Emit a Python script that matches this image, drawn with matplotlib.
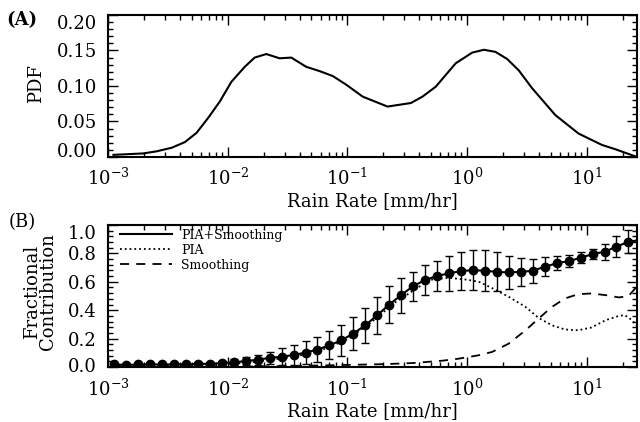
import numpy as np
import matplotlib
matplotlib.use('Agg')
import matplotlib.pyplot as plt
from matplotlib.ticker import AutoMinorLocator, LogLocator

plt.rcParams['font.family'] = 'DejaVu Serif'
plt.rcParams['mathtext.fontset'] = 'dejavuserif'

# panel A: rain rate PDF (log10 of rain rate, pdf)
pdf_logr = [-2.956, -2.706, -2.594, -2.469, -2.358, -2.261, -2.164, -2.067, -1.969,
            -1.858, -1.775, -1.678, -1.567, -1.469, -1.344, -1.233, -1.122, -1.011,
            -0.872, -0.664, -0.469, -0.372, -0.261, -0.094, 0.044, 0.142, 0.239,
            0.336, 0.433, 0.544, 0.739, 0.933, 1.128, 1.239, 1.406]
pdf_val = [0.003, 0.005, 0.008, 0.013, 0.021, 0.034, 0.055, 0.078, 0.106,
           0.127, 0.140, 0.145, 0.139, 0.140, 0.127, 0.121, 0.114, 0.102,
           0.085, 0.071, 0.076, 0.085, 0.099, 0.132, 0.147, 0.151, 0.148,
           0.138, 0.122, 0.097, 0.059, 0.033, 0.017, 0.011, 0.001]

# panel B: PIA+Smoothing mean and error, bins every 0.1 decade
comb_logr = [-2.95, -2.85, -2.75, -2.65, -2.55, -2.45, -2.35, -2.25, -2.15, -2.05,
             -1.95, -1.85, -1.75, -1.65, -1.55, -1.45, -1.35, -1.25, -1.15, -1.05,
             -0.95, -0.85, -0.75, -0.65, -0.55, -0.45, -0.35, -0.25, -0.15, -0.05,
             0.05, 0.15, 0.25, 0.35, 0.45, 0.55, 0.65, 0.75, 0.85, 0.95,
             1.05, 1.15, 1.25, 1.35, 1.45]
comb_val = [0.019, 0.014, 0.018, 0.018, 0.018, 0.018, 0.019, 0.022, 0.023, 0.027,
            0.034, 0.041, 0.052, 0.064, 0.073, 0.084, 0.102, 0.123, 0.153, 0.188,
            0.236, 0.294, 0.365, 0.440, 0.506, 0.570, 0.612, 0.642, 0.659, 0.676,
            0.682, 0.678, 0.670, 0.666, 0.670, 0.678, 0.706, 0.730, 0.746, 0.769,
            0.795, 0.812, 0.847, 0.882, 0.894]
comb_err = [0.010, 0.010, 0.010, 0.010, 0.010, 0.010, 0.010, 0.012, 0.015, 0.018,
            0.022, 0.028, 0.035, 0.045, 0.058, 0.068, 0.078, 0.090, 0.100, 0.107,
            0.118, 0.125, 0.129, 0.129, 0.124, 0.102, 0.104, 0.108, 0.126, 0.135,
            0.141, 0.145, 0.138, 0.118, 0.100, 0.085, 0.067, 0.049, 0.041, 0.039,
            0.033, 0.056, 0.073, 0.080, 0.075]

pia_logr = [-2.95, -2.5, -2.0, -1.8, -1.6, -1.4, -1.2, -1.0, -0.8, -0.6, -0.4, -0.3,
            -0.15, 0.0, 0.1, 0.2, 0.35, 0.49, 0.6, 0.71, 0.82, 0.93, 1.04, 1.16,
            1.27, 1.32, 1.38, 1.42]
pia_val = [0.012, 0.012, 0.020, 0.033, 0.055, 0.080, 0.125, 0.195, 0.315, 0.455,
           0.565, 0.615, 0.628, 0.615, 0.600, 0.560, 0.494, 0.423, 0.345, 0.294,
           0.264, 0.259, 0.278, 0.330, 0.360, 0.365, 0.330, 0.290]

smo_logr = [-2.95, -2.0, -1.5, -1.0, -0.7, -0.45, -0.2, -0.067, 0.1, 0.21, 0.35,
            0.49, 0.6, 0.71, 0.82, 0.93, 1.04, 1.16, 1.27, 1.35, 1.406, 1.43]
smo_val = [0.0, 0.002, 0.006, 0.015, 0.020, 0.028, 0.045, 0.059, 0.083, 0.106, 0.165,
           0.259, 0.342, 0.423, 0.483, 0.513, 0.518, 0.506, 0.490, 0.499, 0.553, 0.580]

pdf_ticks = [0.0, 0.05, 0.10, 0.15, 0.20]
pdf_ticklabels = ['0.00', '0.05', '0.10', '0.15', '0.20']
frac_ticks = [0.0, 0.2, 0.4, 0.6, 0.8, 1.0]
frac_ticklabels = ['0.0', '0.2', '0.4', '0.6', '0.8', '1.0']

fig = plt.figure(figsize=(6.4, 4.22), dpi=100)
axA = fig.add_axes([0.169, 0.628, 0.826, 0.3365])
axB = fig.add_axes([0.169, 0.1303, 0.826, 0.3365])

xmax = 10 ** 1.42


def style(ax, ticks, labels, bottom_va):
    ax.set_xscale('log')
    ax.xaxis.set_major_locator(LogLocator(base=10, numticks=10))
    ax.xaxis.set_minor_locator(LogLocator(base=10, subs=np.arange(2, 10), numticks=10))
    ax.set_yticks(ticks, labels)
    ax.yaxis.set_minor_locator(AutoMinorLocator(5))
    ax.tick_params(which='both', direction='in', top=True, right=True,
                   labelsize=13, width=1.0)
    ax.tick_params(which='major', length=7, pad=8)
    ax.tick_params(which='minor', length=3.5)
    # IDL-style: end labels kept inside the axis range
    lbls = ax.get_yticklabels()
    lbls[0].set_va(bottom_va)
    lbls[-1].set_va('top')
    for s in ax.spines.values():
        s.set_linewidth(1.5)
    ax.set_xlabel('Rain Rate [mm/hr]', fontsize=13, labelpad=2)
    ax.set_xlim(1e-3, xmax)
    ax.set_ylim(ticks[0], ticks[-1])


axA.plot(10 ** np.array(pdf_logr), pdf_val, color='k', lw=1.5)
style(axA, pdf_ticks, pdf_ticklabels, 'baseline')
axA.set_ylabel('PDF', fontsize=13)
axA.yaxis.set_label_coords(-0.119, 0.52)

axB.errorbar(10 ** np.array(comb_logr), comb_val, yerr=comb_err, color='k', lw=1.5,
             marker='o', ms=6, elinewidth=1.0, capsize=3, capthick=1.0)
axB.plot(10 ** np.array(pia_logr), pia_val, color='k', lw=1.3, ls=':')
axB.plot(10 ** np.array(smo_logr), smo_val, color='k', lw=1.3, ls=(0, (5, 4)))
style(axB, frac_ticks, frac_ticklabels, 'center')
axB.set_ylabel('Fractional\nContribution', fontsize=13, linespacing=0.85)
axB.yaxis.set_label_coords(-0.096, 0.53)

handles = [plt.Line2D([], [], color='k', lw=1.5),
           plt.Line2D([], [], color='k', lw=1.3, ls=':'),
           plt.Line2D([], [], color='k', lw=1.3, ls=(0, (5, 4)))]
axB.legend(handles, ['PIA+Smoothing', 'PIA', 'Smoothing'], loc='upper left',
           bbox_to_anchor=(8 / 529, 1.0), frameon=False, fontsize=9,
           handlelength=4.2, handletextpad=0.7, labelspacing=0.15,
           borderaxespad=0, borderpad=0.3)

fig.text(22 / 640, 1 - 20 / 422, '(A)', fontsize=13, fontweight='bold',
         ha='center', va='center')
fig.text(22 / 640, 1 - 222 / 422, '(B)', fontsize=13, ha='center', va='center')

fig.savefig('out.png', dpi=100)
